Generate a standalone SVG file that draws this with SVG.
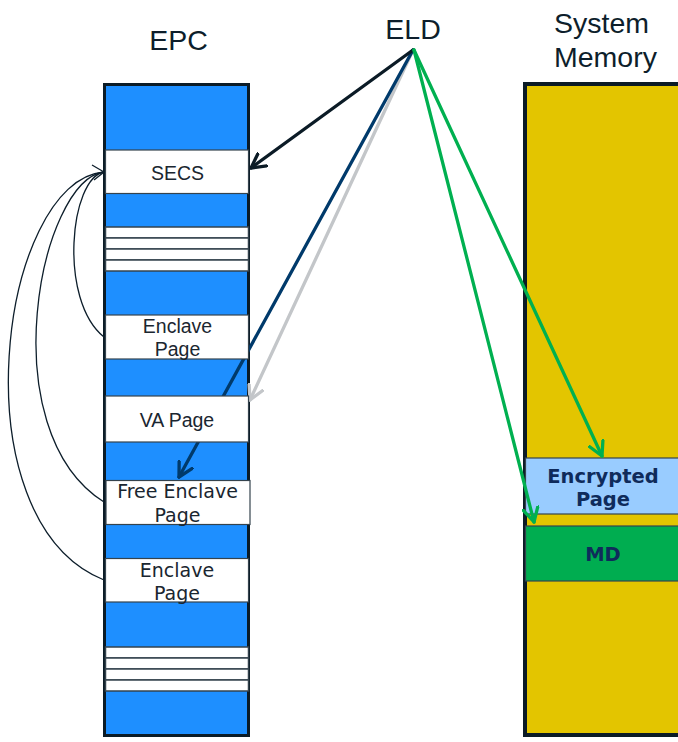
<svg xmlns="http://www.w3.org/2000/svg" width="678" height="742" viewBox="0 0 678 742">
  <defs>
    <style>
      .title { font-family: "Liberation Sans", Arial, sans-serif; font-size: 28.5px; fill: #0d1e2b; }
      .lbl { font-family: "Liberation Sans", Arial, sans-serif; font-size: 19.5px; fill: #1a2630; text-anchor: middle; }
      .lbl2 { font-family: "DejaVu Sans", Verdana, sans-serif; font-size: 19px; fill: #1a2630; text-anchor: middle; }
      .mem { font-family: "DejaVu Sans", Verdana, sans-serif; font-size: 19.5px; font-weight: bold; fill: #0f2b5b; text-anchor: middle; }
      .page { fill: #ffffff; stroke: #35434d; stroke-width: 1.2; }
      .stripe { fill: #ffffff; stroke: #35434d; stroke-width: 1.5; }
      .link { fill: none; stroke-width: 3.3; stroke-linecap: round; }
      .ptr { fill: none; stroke: #0d1e2b; stroke-width: 1.3; }
    </style>
    <marker id="head-dark" viewBox="-15 -9 17 18" markerWidth="17" markerHeight="18" markerUnits="userSpaceOnUse" refX="0" refY="0" orient="auto">
      <path d="M-14,-7.5 L0,0 L-14,7.5" fill="none" stroke="#0b1b26" stroke-width="3.3" stroke-linecap="round" stroke-linejoin="round"/>
    </marker>
    <marker id="head-navy" viewBox="-15 -9 17 18" markerWidth="17" markerHeight="18" markerUnits="userSpaceOnUse" refX="0" refY="0" orient="auto">
      <path d="M-14,-7.5 L0,0 L-14,7.5" fill="none" stroke="#003a6b" stroke-width="3.3" stroke-linecap="round" stroke-linejoin="round"/>
    </marker>
    <marker id="head-grey" viewBox="-15 -9 17 18" markerWidth="17" markerHeight="18" markerUnits="userSpaceOnUse" refX="0" refY="0" orient="auto">
      <path d="M-14,-7.5 L0,0 L-14,7.5" fill="none" stroke="#c3c6c9" stroke-width="3.3" stroke-linecap="round" stroke-linejoin="round"/>
    </marker>
    <marker id="head-green" viewBox="-15 -9 17 18" markerWidth="17" markerHeight="18" markerUnits="userSpaceOnUse" refX="0" refY="0" orient="auto">
      <path d="M-14,-7.5 L0,0 L-14,7.5" fill="none" stroke="#00b050" stroke-width="3.3" stroke-linecap="round" stroke-linejoin="round"/>
    </marker>
  </defs>

  <rect width="678" height="742" fill="#ffffff"/>

  <!-- headings -->
  <text class="title" x="178.5" y="50" text-anchor="middle">EPC</text>
  <text class="title" x="413" y="39" text-anchor="middle">ELD</text>
  <text class="title" x="554" y="33">System</text>
  <text class="title" x="554" y="67">Memory</text>

  <!-- EPC column background -->
  <g id="epc">
    <rect x="104.5" y="84.5" width="144" height="651" fill="#1e8fff" stroke="#0b1b26" stroke-width="3"/>
    <rect class="stripe" x="105.5" y="227" width="143" height="11"/>
    <rect class="stripe" x="105.5" y="238" width="143" height="11"/>
    <rect class="stripe" x="105.5" y="249" width="143" height="11"/>
    <rect class="stripe" x="105.5" y="260" width="143" height="11"/>
    <rect class="stripe" x="105.5" y="647" width="143" height="11"/>
    <rect class="stripe" x="105.5" y="658" width="143" height="11"/>
    <rect class="stripe" x="105.5" y="669" width="143" height="11"/>
    <rect class="stripe" x="105.5" y="680" width="143" height="11"/>
  </g>

  <!-- System memory column -->
  <g id="system-memory">
    <rect x="525" y="84" width="170" height="651" fill="#e3c500" stroke="#0b1b26" stroke-width="4"/>
  </g>

  <!-- system memory pages -->
  <g id="encrypted-page">
    <rect x="525.5" y="458" width="170" height="56" fill="#99ccff" stroke="#35434d" stroke-width="1.2"/>
    <text class="mem" x="603" y="483">Encrypted</text>
    <text class="mem" x="603" y="505.5">Page</text>
  </g>
  <g id="md">
    <rect x="525.5" y="526" width="170" height="55" fill="#00ad50" stroke="#35434d" stroke-width="1.2"/>
    <text class="mem" x="603" y="561">MD</text>
  </g>

  <!-- connectors -->
  <g id="connectors">
    <path class="ptr" d="M104,172 C70,178 58,300 104,337"/>
    <path class="ptr" d="M104,172 C40,180 -10,430 104,502"/>
    <path class="ptr" d="M104,172 C0,180 -45,520 104,580"/>
    <path class="ptr" d="M92,165 L104,172 L94,180"/>
    <line class="link" x1="413" y1="50" x2="250" y2="400" stroke="#c3c6c9" marker-end="url(#head-grey)"/>
    <line class="link" x1="413" y1="50" x2="179" y2="477" stroke="#003a6b" marker-end="url(#head-navy)"/>
    <line class="link" x1="413" y1="50" x2="251" y2="168" stroke="#0b1b26" marker-end="url(#head-dark)"/>
    <line class="link" x1="414" y1="50" x2="602" y2="456" stroke="#00b050" marker-end="url(#head-green)"/>
    <line class="link" x1="414" y1="50" x2="534" y2="522" stroke="#00b050" marker-end="url(#head-green)"/>
  </g>

  <!-- EPC pages -->
  <g id="secs">
    <rect class="page" x="105.5" y="150" width="143" height="43.5"/>
    <text class="lbl" x="177.5" y="180">SECS</text>
  </g>
  <g id="enclave-page-1">
    <rect class="page" x="105.5" y="315" width="143" height="44"/>
    <text class="lbl" x="177.5" y="333">Enclave</text>
    <text class="lbl" x="177.5" y="356">Page</text>
  </g>
  <g id="va-page">
    <rect class="page" x="105.5" y="396" width="143" height="46"/>
    <text class="lbl" x="177" y="426.5">VA Page</text>
  </g>
  <g id="free-enclave-page">
    <rect class="page" x="106" y="480.5" width="144" height="44"/>
    <text class="lbl2" x="177.5" y="498">Free Enclave</text>
    <text class="lbl2" x="177.5" y="521.5">Page</text>
  </g>
  <g id="enclave-page-2">
    <rect class="page" x="105.5" y="558.5" width="143" height="43.5"/>
    <text class="lbl2" x="177" y="576.5">Enclave</text>
    <text class="lbl2" x="177" y="600">Page</text>
  </g>
</svg>
